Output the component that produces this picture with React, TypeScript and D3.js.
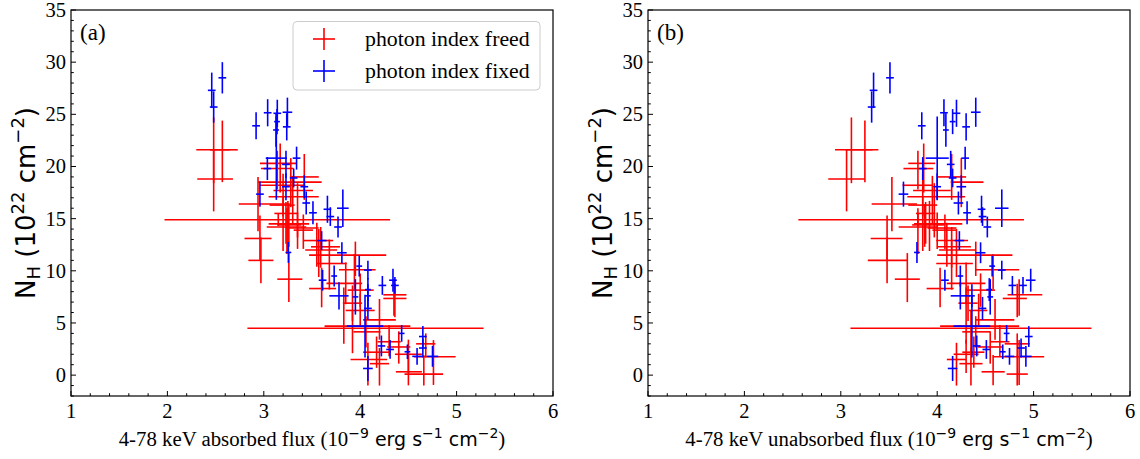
import React from 'react';
import * as d3 from 'd3';

// N_H (1e22 cm^-2) for the "photon index freed" fits, with lower / upper errors
const redNH = [21.6, 21.6, 18.8, 20.3, 19.8, 18.5, 18.2, 17.7, 17.1, 16.4, 16.3, 15.5, 14.9, 14.5, 14.4, 14.2, 14.1, 13.9, 13.1, 11.0, 12.9, 12.3, 12.0, 11.5, 10.7, 10.1, 9.2, 8.8, 8.3, 8.15, 7.7, 7.35, 6.9, 6.2, 5.3, 4.5, 4.7, 4.15, 3.2, 2.7, 2.2, 2.0, 1.76, 1.5, 1.1, 0.32, 0.1, 3.0, 19.0];
const redNHLo = [3.2, 3.1, 3.1, 2.8, 2.0, 2.4, 3.0, 3.2, 3.9, 2.6, 4.4, 2.9, 0.6, 2.6, 2.1, 2.6, 2.0, 1.8, 2.1, 2.2, 2.5, 2.0, 2.6, 2.0, 2.5, 1.9, 2.2, 2.0, 1.8, 1.6, 2.0, 1.8, 1.7, 1.5, 1.9, 1.5, 2.6, 1.5, 1.4, 1.6, 1.5, 1.8, 2.7, 2.5, 2.1, 1.3, 1.1, 1.3, 2.2];
const redNHHi = [3.1, 2.8, 2.8, 1.9, 1.7, 2.3, 1.1, 1.4, 1.3, 2.6, 0.8, 1.1, 0.6, 2.2, 2.0, 1.8, 1.5, 1.5, 2.2, 2.2, 1.7, 1.9, 2.0, 1.3, 2.3, 1.5, 2.5, 2.0, 2.0, 1.6, 1.5, 1.4, 1.7, 1.6, 2.0, 3.9, 1.5, 1.5, 1.6, 1.5, 1.5, 1.4, 1.6, 1.6, 1.5, 1.6, 1.8, 1.0, 2.2];
// absorbed flux (1e-9 erg/s/cm2)
const redAbs = [2.48, 2.57, 2.48, 3.17, 3.14, 3.28, 3.20, 3.30, 3.35, 2.94, 3.20, 3.23, 3.15, 3.25, 3.26, 3.24, 3.35, 3.41, 2.96, 2.97, 3.55, 3.59, 3.57, 3.95, 3.68, 3.94, 3.26, 3.85, 3.60, 4.00, 4.35, 4.36, 3.92, 4.00, 4.20, 3.83, 3.92, 4.06, 4.30, 4.40, 4.17, 4.50, 4.76, 4.08, 4.20, 4.50, 4.66, 4.68, 3.42];
const redAbsLo = [0.18, 0.13, 0.17, 0.21, 0.17, 0.34, 0.24, 0.20, 0.30, 0.20, 0.14, 0.12, 1.18, 0.20, 0.12, 0.21, 0.12, 0.10, 0.16, 0.13, 0.14, 0.10, 0.14, 0.48, 0.13, 0.16, 0.12, 0.20, 0.13, 0.13, 0.11, 0.12, 0.10, 0.15, 0.17, 1.00, 0.29, 0.13, 0.12, 0.12, 0.14, 0.14, 0.20, 0.18, 0.10, 0.13, 0.20, 0.10, 0.15];
const redAbsHi = [0.17, 0.16, 0.20, 0.17, 0.17, 0.32, 0.23, 0.21, 0.22, 0.33, 0.12, 0.12, 1.16, 0.22, 0.13, 0.20, 0.22, 0.10, 0.12, 0.13, 0.17, 0.20, 0.19, 0.32, 0.18, 0.22, 0.14, 0.17, 0.15, 0.14, 0.13, 0.12, 0.10, 0.15, 0.17, 1.45, 0.60, 0.15, 0.12, 0.12, 0.15, 0.14, 0.23, 0.20, 0.10, 0.14, 0.20, 0.10, 0.15];
// unabsorbed flux
const redUnabs = [3.11, 3.25, 3.06, 3.86, 3.80, 4.25, 3.85, 3.95, 3.97, 3.53, 3.85, 3.88, 3.80, 3.92, 3.87, 3.80, 4.00, 4.08, 3.48, 3.48, 4.10, 4.15, 4.20, 4.40, 4.15, 4.58, 3.69, 4.30, 4.03, 4.45, 4.85, 4.83, 4.32, 4.43, 4.60, 4.30, 4.35, 4.40, 4.65, 4.55, 4.38, 4.30, 4.85, 4.20, 4.35, 4.58, 4.83, 4.83, 4.15];
const redUnabsLo = [0.17, 0.20, 0.19, 0.16, 0.15, 0.11, 0.21, 0.20, 0.28, 0.21, 0.15, 0.10, 1.24, 0.16, 0.13, 0.20, 0.10, 0.13, 0.17, 0.20, 0.11, 0.15, 0.18, 0.40, 0.16, 0.18, 0.13, 0.20, 0.14, 0.15, 0.12, 0.15, 0.10, 0.10, 0.20, 1.20, 0.32, 0.14, 0.10, 0.13, 0.12, 0.13, 0.27, 0.10, 0.12, 0.12, 0.11, 0.13, 0.15];
const redUnabsHi = [0.22, 0.14, 0.19, 0.12, 0.16, 0.23, 0.10, 0.19, 0.32, 0.26, 0.15, 0.10, 1.10, 0.34, 0.20, 0.20, 0.20, 0.12, 0.16, 0.21, 0.22, 0.20, 0.20, 0.38, 0.22, 0.27, 0.13, 0.20, 0.14, 0.15, 0.24, 0.10, 0.10, 0.09, 0.20, 1.30, 0.50, 0.15, 0.10, 0.13, 0.11, 0.13, 0.26, 0.10, 0.12, 0.12, 0.11, 0.13, 0.15];

// "photon index fixed" fits
const blueNH = [27.3, 25.7, 28.5, 23.9, 25.15, 25.1, 24.3, 23.5, 25.2, 23.8, 20.8, 19.8, 20.2, 20.8, 18.9, 18.06, 17.35, 18.06, 16.5, 15.56, 15.9, 15.2, 16.0, 14.2, 12.9, 11.76, 11.73, 10.45, 10.07, 9.5, 9.1, 8.6, 9.1, 8.6, 8.2, 7.6, 7.5, 7.6, 6.4, 4.7, 4.0, 3.7, 2.8, 2.46, 2.24, 1.8, 2.6, 1.8, 0.64];
const blueNHErr = [1.7, 1.5, 1.5, 1.3, 1.3, 1.3, 1.2, 1.6, 1.4, 1.3, 4.0, 1.1, 1.3, 1.1, 0.9, 1.3, 1.2, 1.1, 1.1, 1.1, 1.3, 0.9, 1.8, 1.0, 0.9, 1.0, 1.0, 1.0, 0.9, 1.0, 1.0, 0.9, 1.1, 0.8, 1.1, 1.3, 1.7, 1.1, 1.1, 3.0, 0.8, 1.0, 1.0, 0.9, 0.7, 0.8, 0.9, 1.0, 1.2];
const blueAbs = [2.46, 2.48, 2.57, 2.92, 3.04, 3.14, 3.137, 3.127, 3.245, 3.238, 3.13, 3.037, 3.23, 3.34, 3.31, 3.23, 2.96, 3.42, 3.44, 3.51, 3.66, 3.69, 3.82, 3.77, 3.60, 3.255, 3.81, 3.99, 4.08, 3.73, 3.61, 4.23, 4.34, 4.36, 4.08, 3.78, 3.95, 4.08, 4.08, 4.05, 4.43, 4.65, 4.22, 4.31, 4.49, 4.59, 4.65, 4.75, 4.08];
const blueAbsErr = [0.04, 0.04, 0.04, 0.04, 0.04, 0.04, 0.03, 0.03, 0.05, 0.04, 0.11, 0.04, 0.04, 0.04, 0.04, 0.04, 0.04, 0.04, 0.04, 0.04, 0.04, 0.04, 0.06, 0.04, 0.05, 0.03, 0.05, 0.03, 0.04, 0.03, 0.04, 0.04, 0.04, 0.04, 0.03, 0.10, 0.03, 0.03, 0.04, 0.19, 0.03, 0.04, 0.04, 0.04, 0.03, 0.05, 0.04, 0.06, 0.05];
const blueUnabs = [3.34, 3.32, 3.51, 3.84, 4.07, 4.20, 4.16, 4.09, 4.40, 4.30, 4.00, 3.85, 4.14, 4.29, 4.16, 4.00, 3.65, 4.25, 4.22, 4.31, 4.46, 4.47, 4.67, 4.52, 4.23, 3.79, 4.45, 4.57, 4.67, 4.24, 4.08, 4.78, 4.97, 4.89, 4.54, 4.24, 4.55, 4.36, 4.47, 4.36, 4.72, 4.95, 4.41, 4.51, 4.68, 4.75, 4.87, 4.92, 4.16];
const blueUnabsErr = [0.04, 0.04, 0.04, 0.04, 0.04, 0.04, 0.03, 0.03, 0.05, 0.04, 0.12, 0.04, 0.04, 0.04, 0.04, 0.04, 0.05, 0.05, 0.05, 0.04, 0.04, 0.04, 0.07, 0.04, 0.05, 0.03, 0.05, 0.03, 0.04, 0.03, 0.04, 0.04, 0.05, 0.04, 0.03, 0.10, 0.03, 0.03, 0.04, 0.19, 0.03, 0.04, 0.04, 0.04, 0.03, 0.05, 0.04, 0.06, 0.05];

const xTicks = [1, 2, 3, 4, 5, 6];
const yTicks = [0, 5, 10, 15, 20, 25, 30, 35];
const legendLabels = ['photon index freed', 'photon index fixed'];

const RED = '#ff0000';
const BLUE = '#0000ff';
const SERIF = '"Liberation Serif", "Times New Roman", serif';
const SANS = '"DejaVu Sans", sans-serif';
const TOP = 10, BOTTOM = 396;
const LW = 1.6;

const Panel = ({ left, right, tag, fluxWord, redX, redXLo, redXHi, blueX, blueXErr, legend }) => {
    const x = d3.scaleLinear().domain([1, 6]).range([left, right]);
    const y = d3.scaleLinear().domain([-2, 35]).range([BOTTOM, TOP]);
    const minorX = d3.range(1, 6.001, 0.2).filter(v => Math.abs(v - Math.round(v)) > 0.01);
    const minorY = d3.range(-2, 35.001, 1).filter(v => v % 5 !== 0);
    const clipId = 'clip-' + tag;
    const cx = (left + right) / 2;

    return (
        <g>
            <defs>
                <clipPath id={clipId}><rect x={left} y={TOP} width={right - left} height={BOTTOM - TOP} /></clipPath>
            </defs>
            <g clipPath={`url(#${clipId})`} strokeWidth={LW} fill="none">
                {redNH.map((v, i) => (
                    <g key={'r' + i} stroke={RED}>
                        <line x1={x(redX[i] - redXLo[i])} x2={x(redX[i] + redXHi[i])} y1={y(v)} y2={y(v)} />
                        <line x1={x(redX[i])} x2={x(redX[i])} y1={y(v - redNHLo[i])} y2={y(v + redNHHi[i])} />
                    </g>
                ))}
                {blueNH.map((v, i) => (
                    <g key={'b' + i} stroke={BLUE}>
                        <line x1={x(blueX[i] - blueXErr[i])} x2={x(blueX[i] + blueXErr[i])} y1={y(v)} y2={y(v)} />
                        <line x1={x(blueX[i])} x2={x(blueX[i])} y1={y(v - blueNHErr[i])} y2={y(v + blueNHErr[i])} />
                    </g>
                ))}
            </g>

            <g stroke="#000" strokeWidth={1}>
                {xTicks.map(t => <line key={'xt' + t} x1={x(t)} x2={x(t)} y1={BOTTOM} y2={BOTTOM - 5} />)}
                {minorX.map(t => <line key={'xm' + t} x1={x(t)} x2={x(t)} y1={BOTTOM} y2={BOTTOM - 2.8} />)}
                {yTicks.map(t => <line key={'yt' + t} x1={left} x2={left + 5} y1={y(t)} y2={y(t)} />)}
                {minorY.map(t => <line key={'ym' + t} x1={left} x2={left + 2.8} y1={y(t)} y2={y(t)} />)}
            </g>
            <rect x={left} y={TOP} width={right - left} height={BOTTOM - TOP} fill="none" stroke="#000" strokeWidth={1.2} />

            <g fontFamily={SERIF} fontSize={20.5} fill="#000">
                {xTicks.map(t => <text key={'xl' + t} x={x(t)} y={418} textAnchor="middle">{t}</text>)}
                {yTicks.map(t => <text key={'yl' + t} x={left - 5} y={y(t) + 7} textAnchor="end">{t}</text>)}
                <text x={left + 9} y={40} fontSize={23}>({tag})</text>
            </g>

            <text x={cx} y={446} textAnchor="middle" fontFamily={SERIF} fontSize={20.8} fill="#000">
                {`4-78 keV ${fluxWord} flux (10`}
                <tspan fontFamily={SANS} fontSize={14} dy={-8}>−9</tspan>
                <tspan fontFamily={SANS} fontSize={19} dy={8}> erg s</tspan>
                <tspan fontFamily={SANS} fontSize={14} dy={-8}>−1</tspan>
                <tspan fontFamily={SANS} fontSize={19} dy={8}> cm</tspan>
                <tspan fontFamily={SANS} fontSize={14} dy={-8}>−2</tspan>
                <tspan dy={8}>)</tspan>
            </text>

            <text transform={`translate(${left - 36},${(TOP + BOTTOM) / 2}) rotate(-90)`} textAnchor="middle" fontFamily={SANS} fontSize={26} fill="#000">
                N
                <tspan fontSize={18} dy={5}>H</tspan>
                <tspan dy={-5}> (10</tspan>
                <tspan fontSize={18} dy={-11}>22</tspan>
                <tspan dy={11}> cm</tspan>
                <tspan fontSize={18} dy={-11}>−2</tspan>
                <tspan dy={11}>)</tspan>
            </text>

            {legend && (
                <g>
                    <rect x={293} y={21.5} width={247} height={68.5} rx={4} fill="#fff" fillOpacity={0.8} stroke="#cccccc" strokeWidth={1} />
                    {legendLabels.map((lab, i) => {
                        const ly = 39 + i * 32;
                        const col = i === 0 ? RED : BLUE;
                        return (
                            <g key={lab}>
                                <line x1={313} x2={335} y1={ly} y2={ly} stroke={col} strokeWidth={LW} />
                                <line x1={324} x2={324} y1={ly - 11} y2={ly + 11} stroke={col} strokeWidth={LW} />
                                <text x={365} y={ly + 7} fontFamily={SERIF} fontSize={21.8} fill="#000">{lab}</text>
                            </g>
                        );
                    })}
                </g>
            )}
        </g>
    );
};

export default function App() {
    return (
        <svg width={1140} height={459} style={{ position: 'absolute', left: 0, top: 0, background: '#fff' }}>
            <Panel left={71} right={553} tag="a" fluxWord="absorbed" redX={redAbs} redXLo={redAbsLo} redXHi={redAbsHi}
                blueX={blueAbs} blueXErr={blueAbsErr} legend={true} />
            <Panel left={648} right={1130} tag="b" fluxWord="unabsorbed" redX={redUnabs} redXLo={redUnabsLo} redXHi={redUnabsHi}
                blueX={blueUnabs} blueXErr={blueUnabsErr} legend={false} />
        </svg>
    );
}
